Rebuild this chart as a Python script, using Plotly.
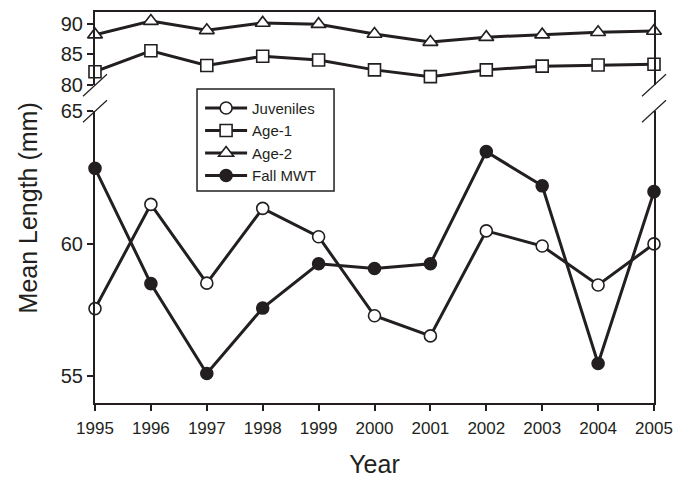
import plotly.graph_objects as go

years = [1995, 1996, 1997, 1998, 1999, 2000, 2001, 2002, 2003, 2004, 2005]
juveniles = [57.56, 61.49, 58.52, 61.34, 60.27, 57.29, 56.53, 60.49, 59.92, 58.45, 60.0]
fall_mwt = [62.85, 58.50, 55.11, 57.58, 59.25, 59.07, 59.25, 63.48, 62.19, 55.49, 61.97]
age1 = [82.2, 85.6, 83.2, 84.7, 84.1, 82.5, 81.4, 82.5, 83.1, 83.3, 83.4]
age2 = [88.2, 90.4, 88.9, 90.1, 89.9, 88.3, 87.0, 87.8, 88.2, 88.6, 88.8]

INK = "#231f20"
FONT = "Liberation Sans, Arial, sans-serif"

fig = go.Figure()

def add(name, y, symbol, fill, yaxis):
    fig.add_trace(go.Scatter(
        x=years, y=y, name=name, mode="lines+markers", yaxis=yaxis,
        xaxis="x" if yaxis == "y" else "x2",
        line=dict(color=INK, width=3),
        marker=dict(symbol=symbol, size=12 if symbol != "triangle-up" else 13,
                    color=fill, line=dict(color=INK, width=1.6)),
        cliponaxis=False,
    ))

add("Juveniles", juveniles, "circle", "white", "y")
add("Age-1", age1, "square", "white", "y2")
add("Age-2", age2, "triangle-up", "white", "y2")
add("Fall MWT", fall_mwt, "circle", INK, "y")

axis_common = dict(showgrid=False, zeroline=False, linecolor=INK, linewidth=2,
                   tickcolor=INK, tickwidth=2, ticklen=6, automargin=False,
                   tickfont=dict(family=FONT, size=20, color=INK))

fig.update_layout(
    width=688, height=483,
    paper_bgcolor="white", plot_bgcolor="white",
    margin=dict(l=95, r=34, t=12, b=80),
    showlegend=True,
    font=dict(family=FONT, color=INK),
    xaxis=dict(range=[1995, 2005], anchor="y", showline=True, ticks="outside",
               tickvals=years, showgrid=False, zeroline=False, automargin=False,
               linecolor=INK, linewidth=2, tickcolor=INK, tickwidth=2, ticklen=6,
               ticklabelstandoff=3,
               tickfont=dict(family=FONT, size=17, color=INK),
               title=dict(text="Year", font=dict(family=FONT, size=25, color=INK), standoff=18)),
    xaxis2=dict(range=[1995, 2005], anchor="y2", matches="x", side="top",
                showline=True, showticklabels=False, ticks="", automargin=False,
                showgrid=False, zeroline=False, linecolor=INK, linewidth=2),
    yaxis=dict(domain=[0, 0.746], range=[54, 65], anchor="x", showline=True,
               mirror=True, ticks="outside", tickvals=[55, 60, 65], **axis_common),
    yaxis2=dict(domain=[0.8125, 1], range=[80, 91.87], anchor="x2", showline=True,
                mirror=True, ticks="outside", tickvals=[80, 85, 90], **axis_common),
    legend=dict(x=0.188, y=0.796, xanchor="left", yanchor="top",
                bgcolor="rgba(0,0,0,0)", borderwidth=0,
                font=dict(family=FONT, size=15, color=INK),
                itemwidth=42, tracegroupgap=0),
)

# legend frame
fig.add_shape(type="rect", xref="paper", yref="paper", x0=0.1825, x1=0.4276,
              y0=0.542, y1=0.803, line=dict(color=INK, width=1.5),
              fillcolor="white", layer="below")

fig.add_annotation(text="Mean Length (mm)", textangle=-90, xref="paper", yref="paper",
                   x=-0.12, y=0.5, xanchor="center", yanchor="middle", showarrow=False,
                   font=dict(family=FONT, size=25, color=INK))

# axis break marks
for xa in [0, 1]:
    for ya in [0.746, 0.8125]:
        fig.add_shape(type="line", xref="paper", yref="paper", xsizemode="pixel", xanchor=xa,
                      ysizemode="pixel", yanchor=ya, x0=-12, x1=12, y0=-11, y1=11,
                      line=dict(color=INK, width=1.2))

fig.write_html("out.html", config={"displayModeBar": False},
               post_script="document.body.style.margin='0';")
